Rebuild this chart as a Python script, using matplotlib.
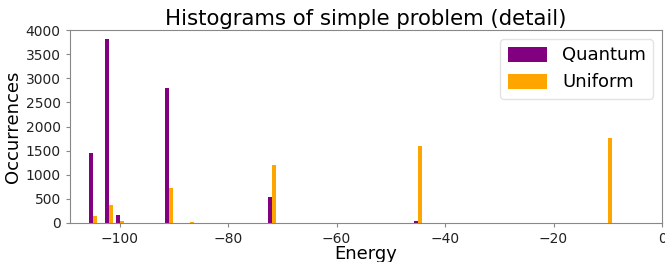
import numpy as np
import matplotlib
matplotlib.use("Agg")
import matplotlib.pyplot as plt

levels = [-105, -102, -100, -91, -87, -72, -45, -10]
quantum_counts = [1450, 3810, 170, 2800, 0, 540, 40, 0]
uniform_counts = [140, 370, 40, 730, 20, 1200, 1600, 1770]
half_bin = 0.92

edges = []
for l in levels:
    edges += [l - half_bin, l + half_bin]

fig = plt.figure(figsize=(6.65, 2.62), dpi=100)
ax = fig.add_axes([0.105, 0.149, 0.8905, 0.736])
ax.hist([levels, levels], bins=edges, weights=[quantum_counts, uniform_counts],
        color=["purple", "orange"], label=["Quantum", "Uniform"])
ax.set_xlim(-109.2, 0)
ax.set_ylim(0, 4000)
ax.set_yticks(np.arange(0, 4001, 500))
ax.set_title("Histograms of simple problem (detail)", fontsize=15.3, pad=4)
ax.set_xlabel("Energy", fontsize=13, labelpad=-1)
ax.set_ylabel("Occurrences", fontsize=13, labelpad=3)
for s in ax.spines.values():
    s.set_color("#888888")
ax.tick_params(colors="#888888", labelcolor="#222222", labelsize=10, length=3)
ax.legend(fontsize=13, loc="upper right", edgecolor="#dddddd", handlelength=2.2,
          handleheight=0.9)
fig.savefig("out.png", dpi=100)
